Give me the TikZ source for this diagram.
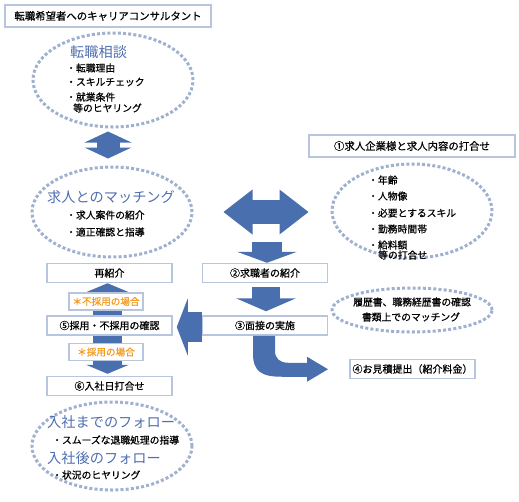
\documentclass[tikz,border=0pt]{standalone}
\usepackage{fontspec}
\setmainfont{Noto Sans CJK JP}[FakeBold=0.7]
\newfontfamily\headfont{Noto Sans CJK JP}
\usepackage{tikz}
\usetikzlibrary{arrows.meta,shapes.geometric}
\definecolor{arrowblue}{HTML}{4A6FAE}
\definecolor{headblue}{HTML}{4F6EB0}
\definecolor{boxline}{HTML}{B7C6DE}
\definecolor{dotline}{HTML}{9FB1CF}
\definecolor{caseorange}{HTML}{F39A1F}

\begin{document}
\begin{tikzpicture}[
    x=1pt, y=-1pt,
    box/.style={draw=boxline, line width=1.5pt, fill=white, minimum width=125pt, minimum height=19pt, inner sep=0pt, font=\fontsize{10}{12}\selectfont},
    widebox/.style={box, line width=2pt, minimum width=206pt, minimum height=22pt, font=\fontsize{10.4}{12}\selectfont},
    casebox/.style={box, text=caseorange, minimum width=74pt, minimum height=17pt, font=\fontsize{9.6}{11}\selectfont},
    ring/.style={ellipse, draw=dotline, line width=3pt, dash pattern=on 3pt off 2.2pt, inner sep=0pt},
    item/.style={anchor=west, inner sep=0pt, font=\fontsize{9.8}{11}\selectfont},
    heading/.style={anchor=west, inner sep=0pt, text=headblue, font=\headfont\fontsize{14.2}{16}\selectfont},
    block/.style={draw=arrowblue, line width=#1},
    shaft/.style 2 args={postaction={draw=arrowblue, arrows=-, shorten <=#1, shorten >=#2}}
]
    \useasboundingbox (0,0) rectangle (519,501);

    \node[widebox] (title) at (108,16) {転職希望者へのキャリアコンサルタント};
    \node[widebox] (order) at (412,146) {①求人企業様と求人内容の打合せ};

    \node[ring, minimum width=160pt, minimum height=94pt] (talk)   at (113,80)  {};
    \node[ring, minimum width=160pt, minimum height=90pt] (match)  at (112,212) {};
    \node[ring, minimum width=160pt, minimum height=94pt] (terms)  at (412,211) {};
    \node[ring, minimum width=160pt, minimum height=44pt] (papers) at (412,310) {};
    \node[ring, minimum width=160pt, minimum height=88pt] (follow) at (112,446) {};

    \node[heading] (talkhead) at (70,52) {転職相談};
    \node[item] at (66,68)  {・転職理由};
    \node[item] at (66,82)  {・スキルチェック};
    \node[item] at (66,97)  {・就業条件};
    \node[item] at (73,108) {等のヒヤリング};

    \node[heading] (matchhead) at (47,197) {求人とのマッチング};
    \node[item] at (66,215) {・求人案件の紹介};
    \node[item] at (66,232) {・適正確認と指導};

    \node[item] at (368,180) {・年齢};
    \node[item] at (368,196) {・人物像};
    \node[item] at (368,213) {・必要とするスキル};
    \node[item] at (368,229) {・勤務時間帯};
    \node[item] at (368,245) {・給料額};
    \node[item] at (378,255) {等の打合せ};

    \node[item, anchor=center] at (412,302) {履歴書、職務経歴書の確認};
    \node[item, anchor=center] at (411,317) {書類上でのマッチング};

    \node[heading] (beforehead) at (47,422) {入社までのフォロー};
    \node[item] at (52,440) {・スムーズな退職処理の指導};
    \node[heading] (afterhead) at (47,458) {入社後のフォロー};
    \node[item] at (52,475) {・状況のヒヤリング};

    \node[box] (intro)    at (265,273)   {②求職者の紹介};
    \node[box] (meet)     at (265,325.5) {③面接の実施};
    \node[box] (quote)    at (412.5,369) {④お見積提出（紹介料金）};
    \node[box] (reintro)  at (109.5,273) {再紹介};
    \node[box] (decide)   at (109.5,325.5) {⑤採用・不採用の確認};
    \node[box] (joinday)  at (109.5,386) {⑥入社日打合せ};

    \draw[block=23pt, {Triangle[width=47pt,length=11pt,line width=0pt]}-{Triangle[width=47pt,length=11pt,line width=0pt]}, shorten <=3pt, shorten >=7pt, shaft={12pt}{16pt}]
        ([xshift=-5pt]talk.south) -- ([xshift=-4pt]match.north);
    \draw[block=24pt, {Triangle[width=45pt,length=29pt,line width=0pt]}-{Triangle[width=45pt,length=29pt,line width=0pt]}, shorten <=30pt, shorten >=22pt, shaft={57pt}{49pt}]
        (match.east) -- (terms.west |- match.east);
    \draw[block=30pt, -{Triangle[width=60pt,length=11pt,line width=0pt]}, shaft={0pt}{9pt}]
        ([xshift=2pt,yshift=21pt]intro.north) -- ([xshift=2pt]intro.north);
    \draw[block=28pt, -{Triangle[width=60pt,length=13pt,line width=0pt]}, shorten <=4pt, shorten >=4pt, shaft={4pt}{15pt}]
        ([xshift=1pt]intro.south) -- ([xshift=1pt]meet.north);
    \draw[block=30pt, -{Triangle[width=57pt,length=11pt,line width=0pt]}, shorten >=4pt, shaft={0pt}{13pt}]
        ([yshift=-1.5pt]meet.west) -- ([yshift=-1.5pt]decide.east);
    \draw[block=29pt, -{Triangle[width=43pt,length=9pt,line width=0pt]}, shaft={0pt}{7pt}]
        ([xshift=-2pt]decide.north) -- ([xshift=-2pt]reintro.south);
    \draw[block=29pt, -{Triangle[width=43pt,length=9pt,line width=0pt]}, shorten >=2pt, shaft={0pt}{9pt}]
        ([xshift=-2pt]decide.south) -- ([xshift=-2pt]joinday.north);
    \begin{scope}[shift={(meet.south)}]
        \fill[arrowblue] (-12,0) -- (-12,18) .. controls (-12,36) and (-3,41) .. (17,41)
            -- (42,41) -- (42,46) -- (63,33.5) -- (42,21) -- (42,27) -- (23,27)
            .. controls (15,27) and (10,23) .. (10,15) -- (10,0) -- cycle;
    \end{scope}

    \node[casebox] (notadopt) at (106,301.5) {＊不採用の場合};
    \node[casebox] (adopt)    at (106,352)   {＊採用の場合};
\end{tikzpicture}
\end{document}
